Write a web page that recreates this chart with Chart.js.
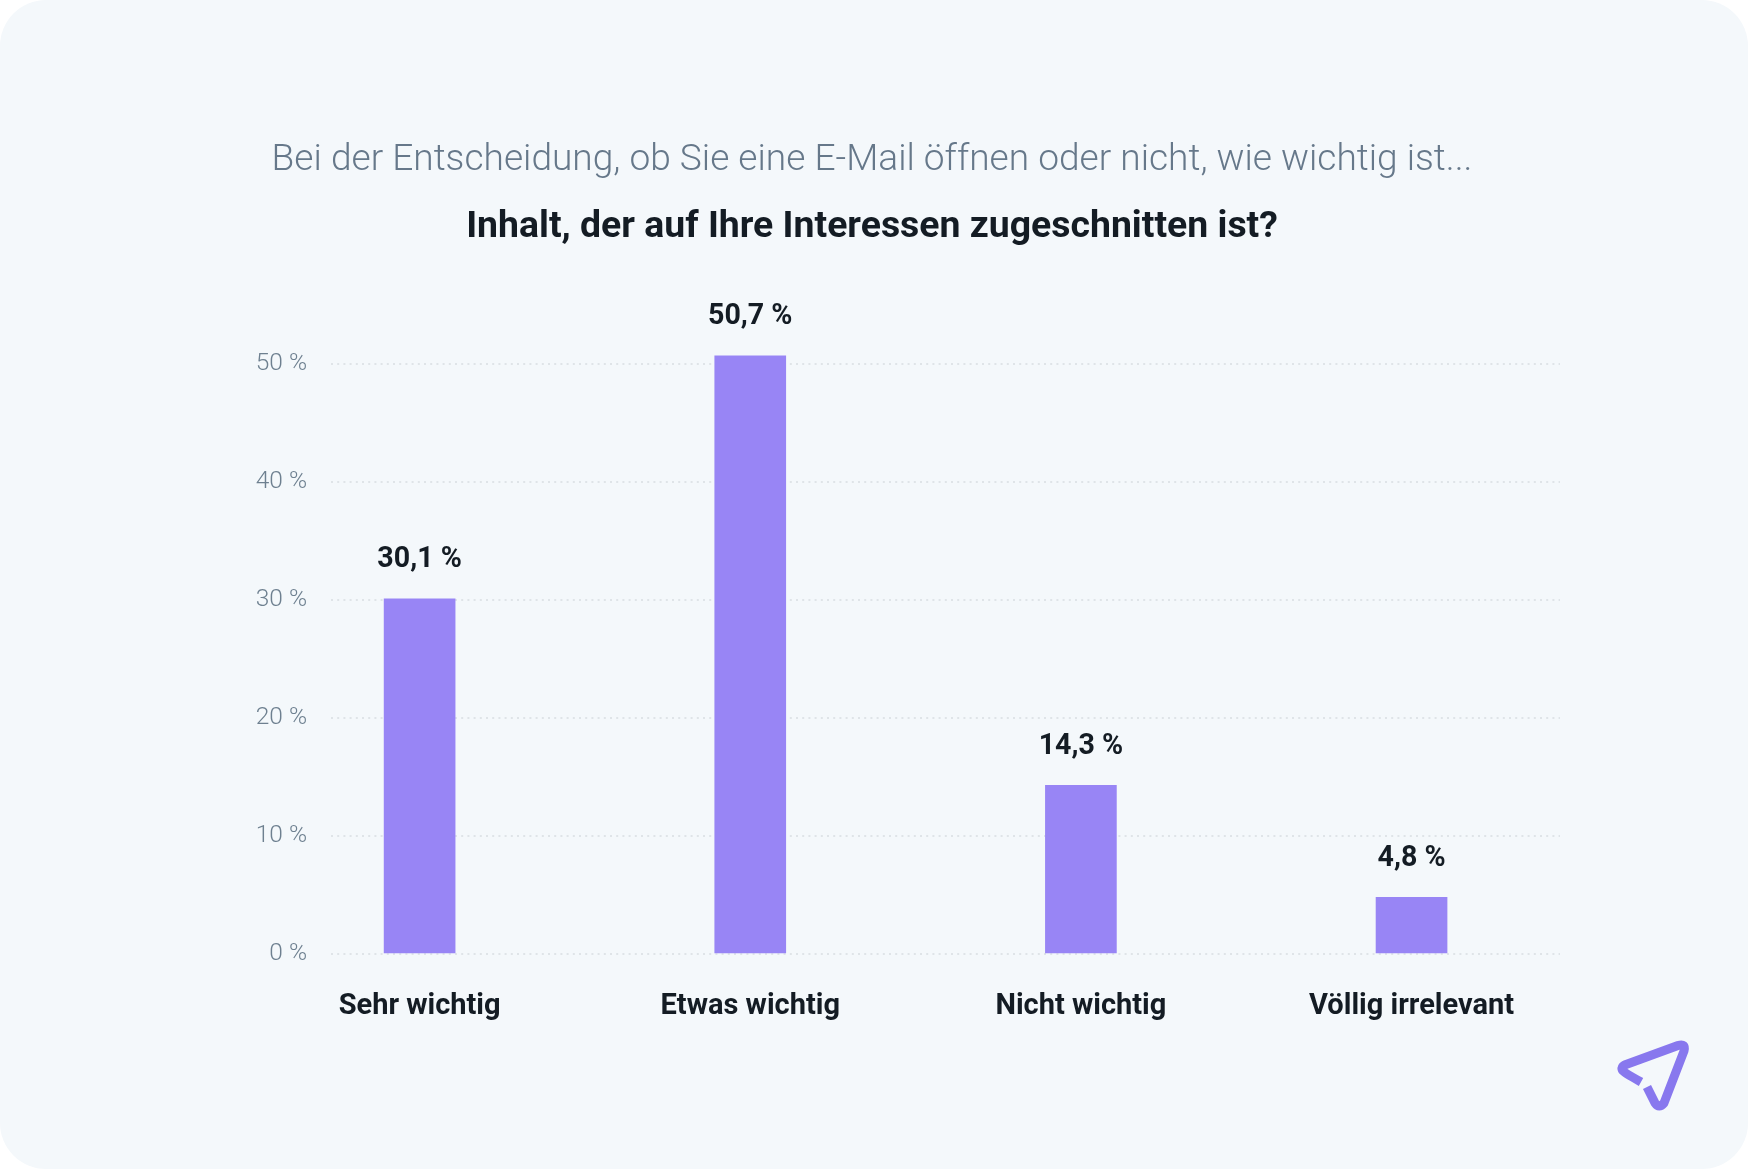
<!DOCTYPE html>
<html>
<head>
<meta charset="utf-8">
<style>
  html, body { margin: 0; padding: 0; background: #fff; }
  #card { position: relative; width: 1748px; height: 1169px; background: #f4f8fb; border-radius: 46px; overflow: hidden; }
  #logo { position: absolute; left: 1616px; top: 1038px; }
</style>
</head>
<body>
<div id="card">
  <canvas id="chart" width="1748" height="1169"></canvas>
  <svg id="logo" width="76" height="76" viewBox="0 0 76 76" fill="none" stroke="#8878ee" stroke-width="9" stroke-linecap="butt" stroke-linejoin="round">
    <path d="M25 44 Q7 34 7 33 Q4 29 10 26.500 L62 7.500 Q70 5 68 13 L48 65 Q43 71 39 65 L31 49"/>
  </svg>
</div>
<script src="https://cdn.jsdelivr.net/npm/chart.js@4/dist/chart.umd.js"></script>
<script>
const categories = ["Sehr wichtig", "Etwas wichtig", "Nicht wichtig", "Völlig irrelevant"];
const values = [30.1, 50.7, 14.3, 4.8];
const valueLabels = ["30,1 %", "50,7 %", "14,3 %", "4,8 %"];
const yTicks = [0, 10, 20, 30, 40, 50];
const titleText = "Bei der Entscheidung, ob Sie eine E-Mail öffnen oder nicht, wie wichtig ist...";
const subtitleText = "Inhalt, der auf Ihre Interessen zugeschnitten ist?";

const valueLabelPlugin = {
  id: "valueLabels",
  afterDatasetsDraw(chart) {
    const ctx = chart.ctx;
    const bars = chart.getDatasetMeta(0).data;
    ctx.save();
    ctx.font = "700 28.6px Roboto";
    ctx.fillStyle = "#141c24";
    ctx.textAlign = "center";
    ctx.textBaseline = "alphabetic";
    bars.forEach((bar, i) => {
      ctx.fillText(valueLabels[i], bar.x, bar.y - 31.5);
    });
    ctx.restore();
  }
};

new Chart(document.getElementById("chart"), {
  type: "bar",
  data: {
    datasets: [{
      data: values.map((v, i) => ({ x: i, y: v })),
      backgroundColor: "#9885f5",
      barThickness: 71,
      borderWidth: 0
    }]
  },
  plugins: [valueLabelPlugin],
  options: {
    responsive: false,
    animation: false,
    // nearly equal padding so the title stays centred on the page
    layout: { padding: { top: 0, left: 184, right: 188, bottom: 0 } },
    plugins: {
      legend: { display: false },
      tooltip: { enabled: false },
      title: {
        display: true,
        text: titleText,
        color: "#66788a",
        font: { family: "Roboto", weight: "300", size: 37.1 },
        padding: { top: 138, bottom: 23 }
      },
      subtitle: {
        display: true,
        text: subtitleText,
        color: "#141c24",
        font: { family: "Roboto", weight: "700", size: 37.4 },
        padding: { top: 0, bottom: 90 }
      }
    },
    scales: {
      x: {
        type: "linear",
        offset: false,
        min: -0.268,
        max: 3.449,
        afterBuildTicks: scale => { scale.ticks = categories.map((c, i) => ({ value: i })); },
        afterFit: scale => { scale.height = 215; },
        grid: { display: false },
        border: { display: false },
        ticks: {
          autoSkip: false,
          maxRotation: 0,
          padding: 27,
          color: "#141c24",
          font: { family: "Roboto", weight: "700", size: 29 },
          callback: value => categories[value]
        }
      },
      y: {
        min: 0,
        max: 52,
        afterBuildTicks: scale => { scale.ticks = yTicks.map(v => ({ value: v })); },
        afterFit: scale => { scale.width = 147; },
        grid: { color: "#dfe4e8", lineWidth: 2, drawTicks: false },
        border: { display: false, dash: [2, 4.2] },
        ticks: {
          padding: 24,
          color: "#6e8090",
          font: { family: "Roboto", weight: "300", size: 24.5 },
          callback: value => value + " %"
        }
      }
    }
  }
});
</script>
</body>
</html>
